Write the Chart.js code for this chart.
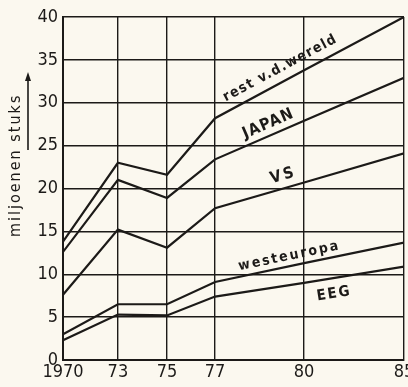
<!DOCTYPE html>
<html>
<head>
<meta charset="utf-8">
<script src="https://cdn.jsdelivr.net/npm/chart.js@4.4.1/dist/chart.umd.min.js"></script>
<style>
  html, body { margin: 0; padding: 0; background: #fbf8ef; }
  #wrap { width: 408px; height: 387px; position: relative; }
</style>
</head>
<body>
<div id="wrap"><canvas id="c" width="408" height="387"></canvas></div>
<script>
// ---- data ----
const years = [1970, 1973, 1975, 1977, 1980, 1985];
const yearLabels = ['1970', '73', '75', '77', '80', '85'];
const eeg        = [2.3, 5.3, 5.2, 7.4, 9.0, 10.9];
const westeuropa = [3.0, 6.5, 6.5, 9.1, 11.3, 13.7];
const vs         = [7.6, 15.2, 13.1, 17.7, 20.7, 24.1];
const japan      = [12.6, 21.0, 18.9, 23.4, 27.9, 32.9];
const rest       = [13.8, 23.0, 21.6, 28.2, 33.8, 40.0];
const seriesNames = ['EEG', 'westeuropa', 'VS', 'JAPAN', 'rest v.d.wereld'];
const yTicks = [0, 5, 10, 15, 20, 25, 30, 35, 40];
const yTitle = 'miljoenen stuks';

// ---- layout (uneven spacing of the year axis in the original drawing) ----
const X_FRACTIONS = [0, 0.161, 0.305, 0.446, 0.707, 1];

class BentScale extends Chart.LinearScale {
  _dec(value) {
    const v = +value;
    if (v <= years[0]) return X_FRACTIONS[0];
    for (let i = 1; i < years.length; i++) {
      if (v <= years[i]) {
        const t = (v - years[i - 1]) / (years[i] - years[i - 1]);
        return X_FRACTIONS[i - 1] + t * (X_FRACTIONS[i] - X_FRACTIONS[i - 1]);
      }
    }
    return 1;
  }
  getPixelForValue(value) {
    if (value === null || value === undefined || isNaN(value)) return NaN;
    return this.getPixelForDecimal(this._dec(value));
  }
  getValueForPixel(pixel) {
    const d = this.getDecimalForPixel(pixel);
    for (let i = 1; i < years.length; i++) {
      if (d <= X_FRACTIONS[i]) {
        const t = (d - X_FRACTIONS[i - 1]) / (X_FRACTIONS[i] - X_FRACTIONS[i - 1]);
        return years[i - 1] + t * (years[i] - years[i - 1]);
      }
    }
    return years[years.length - 1];
  }
}
BentScale.id = 'bent';
BentScale.defaults = Chart.LinearScale.defaults;
Chart.register(BentScale);

const INK = '#1c1a18';
const TICK_FONT = "'Liberation Sans Narrow', 'DejaVu Sans Condensed', sans-serif";
const LABEL_FONT = "'DejaVu Sans Condensed', 'DejaVu Sans', sans-serif";

// label placement along each line (year position, offset above line in value units)
const lineLabels = [
  { ds: 4, at: 1979.2, lift: 1.75, size: 14, spacing: 1.4 },
  { ds: 3, at: 1978.8, lift: 1.45, size: 16, spacing: 1.2 },
  { ds: 2, at: 1979.3, lift: 1.5, size: 16, spacing: 2.5 },
  { ds: 1, at: 1979.5, lift: 1.2, size: 14, spacing: 2 },
  { ds: 0, at: 1981.5, lift: -1.9, size: 15, spacing: 1.8 }
];

const seriesValues = [eeg, westeuropa, vs, japan, rest];
const datasets = seriesValues.map((vals, k) => ({
  label: seriesNames[k],
  data: years.map((yr, i) => ({ x: yr, y: vals[i] })),
  borderColor: INK,
  borderWidth: 2.2,
  pointRadius: 0,
  tension: 0,
  fill: false
}));

const labelPlugin = {
  id: 'lineLabels',
  afterDatasetsDraw(chart) {
    const ctx = chart.ctx;
    const xs = chart.scales.x, ys = chart.scales.y;
    ctx.save();
    ctx.fillStyle = INK;
    ctx.textAlign = 'center';
    ctx.textBaseline = 'middle';
    const unit = ys.getPixelForValue(0) - ys.getPixelForValue(1);
    lineLabels.forEach(l => {
      const vals = seriesValues[l.ds];
      const i0 = years.indexOf(1977), i1 = years.length - 1;
      const x0 = xs.getPixelForValue(years[i0]), y0 = ys.getPixelForValue(vals[i0]);
      const x1 = xs.getPixelForValue(years[i1]), y1 = ys.getPixelForValue(vals[i1]);
      const ang = Math.atan2(y1 - y0, x1 - x0);
      const px = xs.getPixelForValue(l.at);
      const t = (px - x0) / (x1 - x0);
      const lineY = y0 + t * (y1 - y0);
      ctx.save();
      ctx.translate(px, lineY - l.lift * unit);
      ctx.rotate(ang);
      ctx.font = 'bold ' + l.size + 'px ' + LABEL_FONT;
      ctx.letterSpacing = l.spacing + 'px';
      ctx.fillText(seriesNames[l.ds], 0, 0);
      ctx.restore();
    });
    // y axis title with arrow
    const cx = 16;
    const midY = ys.getPixelForValue(22.7);
    ctx.save();
    ctx.translate(cx, midY);
    ctx.rotate(-Math.PI / 2);
    ctx.font = '16px ' + LABEL_FONT;
    ctx.letterSpacing = '2px';
    ctx.fillText(yTitle, 0, 0);
    ctx.restore();
    const ax = 28;
    const aBot = ys.getPixelForValue(24.5), aTop = ys.getPixelForValue(33.6);
    ctx.strokeStyle = INK;
    ctx.lineWidth = 1.6;
    ctx.beginPath();
    ctx.moveTo(ax, aBot);
    ctx.lineTo(ax, aTop + 4);
    ctx.stroke();
    ctx.beginPath();
    ctx.moveTo(ax, aTop);
    ctx.lineTo(ax - 3, aTop + 9);
    ctx.lineTo(ax + 3, aTop + 9);
    ctx.closePath();
    ctx.fill();
    ctx.restore();
  }
};

const bgPlugin = {
  id: 'bg',
  beforeDraw(chart) {
    const ctx = chart.ctx;
    ctx.save();
    ctx.fillStyle = '#fbf8ef';
    ctx.fillRect(0, 0, chart.width, chart.height);
    ctx.restore();
  }
};

new Chart(document.getElementById('c'), {
  type: 'line',
  data: { datasets },
  options: {
    responsive: false,
    animation: false,
    events: [],
    layout: { padding: { top: 17, right: 4, left: 0, bottom: 0 } },
    plugins: { legend: { display: false }, tooltip: { enabled: false } },
    scales: {
      x: {
        type: 'bent',
        min: 1970,
        max: 1985,
        afterBuildTicks: s => { s.ticks = years.map(v => ({ value: v })); },
        afterFit: s => { s.height = 27; s.paddingLeft = 0; s.paddingRight = 0; },
        ticks: {
          autoSkip: false,
          maxRotation: 0,
          padding: 2,
          color: INK,
          font: { family: TICK_FONT, size: 18 },
          callback: v => yearLabels[years.indexOf(v)]
        },
        grid: { color: INK, lineWidth: 1.4, drawTicks: false },
        border: { color: INK, width: 2 }
      },
      y: {
        type: 'linear',
        min: 0,
        max: 40,
        afterBuildTicks: s => { s.ticks = yTicks.map(v => ({ value: v })); },
        afterFit: s => { s.width = 63; s.paddingTop = 0; s.paddingBottom = 0; },
        ticks: {
          padding: 5,
          color: INK,
          font: { family: TICK_FONT, size: 18 },
          callback: v => String(v)
        },
        grid: { color: INK, lineWidth: 1.4, drawTicks: false },
        border: { color: INK, width: 2 }
      }
    }
  },
  plugins: [bgPlugin, labelPlugin]
});
</script>
</body>
</html>
